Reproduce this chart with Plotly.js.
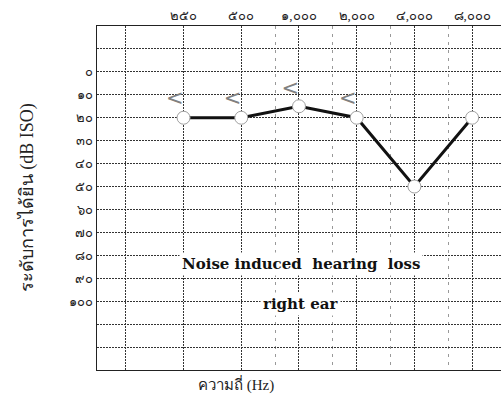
<!DOCTYPE html>
<html>
<head>
<meta charset="utf-8">
<script src="https://cdn.plot.ly/plotly-3.0.1.min.js"></script>
<style>html,body{margin:0;padding:0;background:#fff;}</style>
</head>
<body>
<div id="chart" style="width:501px;height:401px;"></div>
<script>
// Frequencies (Hz)
var freqs = [250, 500, 1000, 2000, 4000, 8000];
// Right ear air conduction thresholds (dB)
var airRight = [20, 20, 15, 20, 50, 20];
// Right ear bone conduction (unmasked "<")
var boneFreqs = [250, 500, 1000, 2000];
var boneRight = [12, 12, 8, 12];
// Axis tick labels
var xTickVals = [125, 250, 500, 1000, 2000, 4000, 8000];
var xTickText = ['', '๒๕๐', '๕๐๐', '๑,๐๐๐', '๒,๐๐๐', '๔,๐๐๐', '๘,๐๐๐'];
var xMinorVals = [750, 1500, 3000, 6000];
var yTickVals = [-10, 0, 10, 20, 30, 40, 50, 60, 70, 80, 90, 100, 110, 120];
var yTickText = ['', '๐', '๑๐', '๒๐', '๓๐', '๔๐', '๕๐', '๖๐', '๗๐', '๘๐', '๙๐', '๑๐๐', '', ''];

var traces = [
  {
    x: freqs, y: airRight, type: 'scatter', mode: 'lines+markers',
    line: {color: '#111', width: 3},
    marker: {symbol: 'circle', size: 13, color: 'rgba(255,255,255,1)', line: {color: '#a0a0a0', width: 1}},
    hoverinfo: 'skip', showlegend: false
  },
  {
    x: boneFreqs, y: boneRight, type: 'scatter', mode: 'text',
    text: boneFreqs.map(function(){return '<';}),
    textposition: 'middle left',
    textfont: {family: 'DejaVu Sans', size: 21, color: '#808080'},
    hoverinfo: 'skip', showlegend: false
  }
];

var layout = {
  width: 501, height: 401,
  margin: {l: 97, r: 0, t: 26, b: 31},
  paper_bgcolor: '#fff', plot_bgcolor: '#fff',
  showlegend: false,
  font: {family: 'Liberation Serif', color: '#222'},
  xaxis: {
    type: 'log', side: 'top',
    range: [Math.log10(88.4), Math.log10(11314)],
    tickmode: 'array', tickvals: xTickVals, ticktext: xTickText,
    ticks: '', tickfont: {size: 13, color: '#222'},
    showgrid: true, gridcolor: '#333', griddash: '2px,1px', gridwidth: 1,
    minor: {tickvals: xMinorVals, showgrid: true, gridcolor: '#999', griddash: '3px,5px', gridwidth: 1, ticks: ''},
    showline: true, mirror: true, linecolor: '#222', linewidth: 1,
    zeroline: false, fixedrange: true
  },
  yaxis: {
    range: [130, -20],
    tickmode: 'array', tickvals: yTickVals, ticktext: yTickText,
    ticks: '', tickfont: {size: 13, color: '#222'},
    showgrid: true, gridcolor: '#333', griddash: '2px,1px', gridwidth: 1,
    showline: true, mirror: true, linecolor: '#222', linewidth: 1,
    zeroline: false, fixedrange: true
  },
  annotations: [
    {xref: 'paper', yref: 'paper', x: 0.504, y: 0.273, text: 'Noise induced  hearing  loss',
     showarrow: false, font: {family: 'DejaVu Serif', size: 15, color: '#111', weight: 'bold'}, bgcolor: '#fff', borderpad: 2},
    {xref: 'paper', yref: 'paper', x: 0.504, y: 0.157, text: 'right ear',
     showarrow: false, font: {family: 'DejaVu Serif', size: 15, color: '#111', weight: 'bold'}, bgcolor: '#fff', borderpad: 2},
    {xref: 'paper', yref: 'paper', x: -0.205, y: 0.5, text: 'ระดับการได้ยิน (dB ISO)', textangle: -90,
     showarrow: false, font: {family: 'Liberation Serif', size: 18, color: '#222'}},
    {xref: 'paper', yref: 'paper', x: 0.344, y: -0.04, yanchor: 'middle', text: 'ความถี่ (Hz)',
     showarrow: false, font: {family: 'Liberation Serif', size: 15, color: '#222'}}
  ]
};

Plotly.newPlot('chart', traces, layout, {staticPlot: true, displayModeBar: false});
</script>
</body>
</html>
